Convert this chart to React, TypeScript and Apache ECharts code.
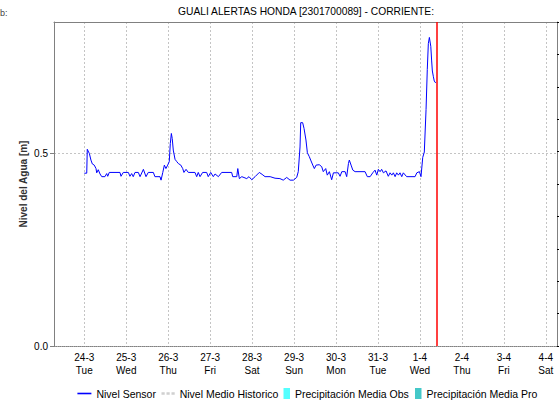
import React, { useEffect, useRef } from "react";
import * as echarts from "echarts";

// hours since 24-3 00:00
const sensorHours = [
  0, 1.4, 1.7, 2.9, 3.8, 4.6, 5.7, 6.7, 7.1, 8.0,
  9.0, 10.0, 11.8, 12.8, 13.4, 14.3, 20.4, 21.0, 22.3, 25.2,
  26.1, 27.1, 28.0, 29.0, 30.9, 31.9, 33.8, 35.3, 36.6, 39.5,
  40.4, 43.3, 43.9, 44.9, 45.8, 46.7, 47.7, 48.6, 49.2, 49.8,
  50.3, 50.9, 51.9, 52.9, 53.8, 55.2, 56.3, 57.0, 58.2, 59.5,
  63.3, 64.3, 65.2, 66.2, 67.7, 70.0, 70.9, 72.3, 73.8, 74.8,
  76.7, 78.6, 84.3, 84.9, 87.2, 87.8, 88.7, 90.1, 92.9, 94.2,
  95.8, 97.7, 100.1, 101.7, 103.4, 106.3, 109.1, 111.9, 113.8, 115.8,
  117.7, 119.6, 121.5, 122.4, 123.4, 123.8, 124.9, 125.7, 126.8, 127.6,
  128.7, 129.5, 130.7, 131.6, 132.6, 134.4, 135.8, 136.7, 138.1, 139.0,
  140.2, 141.5, 142.5, 145.3, 146.3, 147.3, 149.2, 150.1, 151.1, 151.6,
  152.6, 153.6, 154.9, 160.6, 161.9, 163.5, 165.0, 166.3, 167.3, 168.2,
  169.2, 170.1, 171.1, 172.6, 173.9, 174.9, 175.9, 176.8, 177.8, 178.7,
  179.7, 180.6, 181.6, 182.5, 184.4, 189.2, 190.2, 191.7, 192.6, 193.6,
  194.5, 194.9, 195.5, 196.2, 196.8, 197.4, 197.8, 198.2, 198.7, 199.1,
  199.7, 200.2, 201.0,
];
const sensorLevels = [
  0.448, 0.448, 0.51, 0.499, 0.482, 0.472, 0.469, 0.46, 0.449, 0.457,
  0.446, 0.439, 0.439, 0.447, 0.44, 0.45, 0.45, 0.44, 0.45, 0.45,
  0.44, 0.447, 0.439, 0.45, 0.45, 0.439, 0.458, 0.439, 0.45, 0.45,
  0.439, 0.439, 0.43, 0.45, 0.469, 0.46, 0.469, 0.478, 0.525, 0.551,
  0.538, 0.508, 0.484, 0.478, 0.473, 0.469, 0.46, 0.45, 0.458, 0.45,
  0.45, 0.439, 0.45, 0.439, 0.45, 0.45, 0.439, 0.45, 0.439, 0.446,
  0.439, 0.45, 0.45, 0.439, 0.439, 0.46, 0.434, 0.439, 0.434, 0.439,
  0.431, 0.439, 0.45, 0.445, 0.439, 0.439, 0.435, 0.434, 0.43, 0.437,
  0.43, 0.43, 0.437, 0.452, 0.516, 0.579, 0.579, 0.564, 0.534, 0.501,
  0.491, 0.482, 0.469, 0.46, 0.469, 0.47, 0.465, 0.452, 0.46, 0.443,
  0.452, 0.431, 0.449, 0.449, 0.44, 0.452, 0.452, 0.439, 0.473, 0.482,
  0.469, 0.456, 0.452, 0.452, 0.439, 0.439, 0.449, 0.456, 0.443, 0.458,
  0.452, 0.458, 0.449, 0.454, 0.44, 0.449, 0.443, 0.449, 0.439, 0.449,
  0.443, 0.449, 0.439, 0.449, 0.439, 0.439, 0.449, 0.452, 0.439, 0.489,
  0.503, 0.547, 0.613, 0.717, 0.784, 0.8, 0.8, 0.777, 0.739, 0.713,
  0.698, 0.687, 0.682,
];

const dayLabels = ["24-3", "25-3", "26-3", "27-3", "28-3", "29-3", "30-3", "31-3", "1-4", "2-4", "3-4", "4-4"];
const weekdayLabels = ["Tue", "Wed", "Thu", "Fri", "Sat", "Sun", "Mon", "Tue", "Wed", "Thu", "Fri", "Sat"];
const dayTicks = dayLabels.map((_, i) => i * 24);
const levelTicks = [0, 0.5];
const nowHour = 201.4;
const xMin = -17.33;
const xMax = 270.4;
const yMax = 0.84;

const titleText = "GUALI ALERTAS HONDA [2301700089] - CORRIENTE:";
const FONT = "'Liberation Sans', Arial, sans-serif";

const solidIcon = "path://M0,0H14V1.6H0Z";
const dashedIcon = "path://M0,0H3.2V2.6H0Z M5,0H8.2V2.6H5Z M10,0H13.2V2.6H10Z";

export default function App() {
  const ref = useRef<HTMLDivElement>(null);
  useEffect(() => {
    if (!ref.current) return;
    const chart = echarts.init(ref.current, null, { renderer: "svg" });
    const legendBase = {
      orient: "horizontal",
      top: 388,
      padding: 0,
      itemGap: 0,
      symbolKeepAspect: true,
      textStyle: { fontSize: 10.5, color: "#000", fontFamily: FONT },
    };
    chart.setOption({
      animation: false,
      backgroundColor: "#fff",
      textStyle: { fontFamily: FONT },
      grid: { left: 54, right: 2, top: 22, bottom: 56, containLabel: false },
      graphic: [
        {
          type: "text",
          x: 306,
          y: 11.5,
          style: { text: titleText, align: "center", verticalAlign: "middle", font: `10.25px ${FONT}`, fill: "#000" },
        },
        {
          type: "text",
          x: 0,
          y: 12.5,
          style: { text: "b:", align: "left", verticalAlign: "middle", font: `9px ${FONT}`, fill: "#444" },
        },
      ],
      legend: [
        { ...legendBase, left: 77.4, itemWidth: 14, itemHeight: 11, data: [{ name: "Nivel Sensor", icon: solidIcon }] },
        { ...legendBase, left: 161.5, itemWidth: 13.2, itemHeight: 11, data: [{ name: "Nivel Medio Historico", icon: dashedIcon }] },
        { ...legendBase, left: 283.5, itemWidth: 6.5, itemHeight: 11, data: [{ name: "Precipitación Media Obs", icon: "rect" }] },
        { ...legendBase, left: 415, itemWidth: 6.5, itemHeight: 11, data: [{ name: "Precipitación Media Pro", icon: "rect" }] },
      ],
      xAxis: [
        {
          type: "value",
          min: xMin,
          max: xMax,
          position: "bottom",
          axisLine: { show: true, onZero: false, lineStyle: { color: "#808080", type: [1, 1], width: 1 } },
          axisTick: { show: false, customValues: dayTicks },
          axisLabel: {
            customValues: dayTicks,
            fontSize: 10,
            color: "#000",
            lineHeight: 13,
            margin: 5,
            formatter: (v: number) => {
              const i = Math.round(v / 24);
              return `${dayLabels[i]}\n${weekdayLabels[i]}`;
            },
          },
          splitLine: { show: true, lineStyle: { color: "#c4c4c4", type: [2, 2], width: 1 } },
        },
        {
          type: "value",
          min: xMin,
          max: xMax,
          position: "top",
          axisLine: { show: true, onZero: false, lineStyle: { color: "#808080", width: 1 } },
          axisTick: { show: false },
          axisLabel: { show: false },
          splitLine: { show: false },
        },
      ],
      yAxis: [
        {
          type: "value",
          min: 0,
          max: yMax,
          position: "left",
          name: "Nivel del Agua [m]",
          nameLocation: "middle",
          nameGap: 26,
          nameMoveOverlap: false,
          nameTextStyle: { fontSize: 10, fontWeight: "bold", color: "#333", fontFamily: FONT },
          axisLine: { show: true, onZero: false, lineStyle: { color: "#808080", width: 1 } },
          axisTick: { show: true, length: 4, customValues: levelTicks, lineStyle: { color: "#808080" } },
          axisLabel: {
            customValues: levelTicks,
            fontSize: 10,
            color: "#000",
            margin: 6,
            formatter: (v: number) => v.toFixed(1),
          },
          splitLine: { show: true, lineStyle: { color: "#c4c4c4", type: [2, 2], width: 1 } },
        },
        {
          type: "value",
          min: 0,
          max: 10,
          interval: 1,
          position: "right",
          axisLine: { show: true, onZero: false, lineStyle: { color: "#808080", width: 1 } },
          axisTick: { show: true, length: 2, inside: false, lineStyle: { color: "#000" } },
          axisLabel: { show: false },
          splitLine: { show: false },
        },
      ],
      series: [
        {
          name: "Nivel Sensor",
          type: "line",
          xAxisIndex: 0,
          yAxisIndex: 0,
          symbol: "none",
          lineStyle: { color: "#0000ff", width: 1 },
          itemStyle: { color: "#0000ff" },
          data: sensorHours.map((h, i) => [h, sensorLevels[i]]),
          markLine: {
            symbol: "none",
            silent: true,
            label: { show: false },
            lineStyle: { color: "#ff0000", width: 1.5, type: "solid" },
            data: [{ xAxis: nowHour }],
          },
        },
        {
          name: "Nivel Medio Historico",
          type: "line",
          xAxisIndex: 0,
          yAxisIndex: 0,
          symbol: "none",
          lineStyle: { color: "#d0d0d0", width: 2.5, type: [3, 2] },
          itemStyle: { color: "#d0d0d0" },
          data: [],
        },
        {
          name: "Precipitación Media Obs",
          type: "bar",
          xAxisIndex: 0,
          yAxisIndex: 1,
          itemStyle: { color: "#55ffff" },
          data: [],
        },
        {
          name: "Precipitación Media Pro",
          type: "bar",
          xAxisIndex: 0,
          yAxisIndex: 1,
          itemStyle: { color: "#44c8c8" },
          data: [],
        },
      ],
    });
    return () => chart.dispose();
  }, []);
  return <div ref={ref} style={{ position: "fixed", left: 0, top: 0, width: 559, height: 402 }} />;
}
